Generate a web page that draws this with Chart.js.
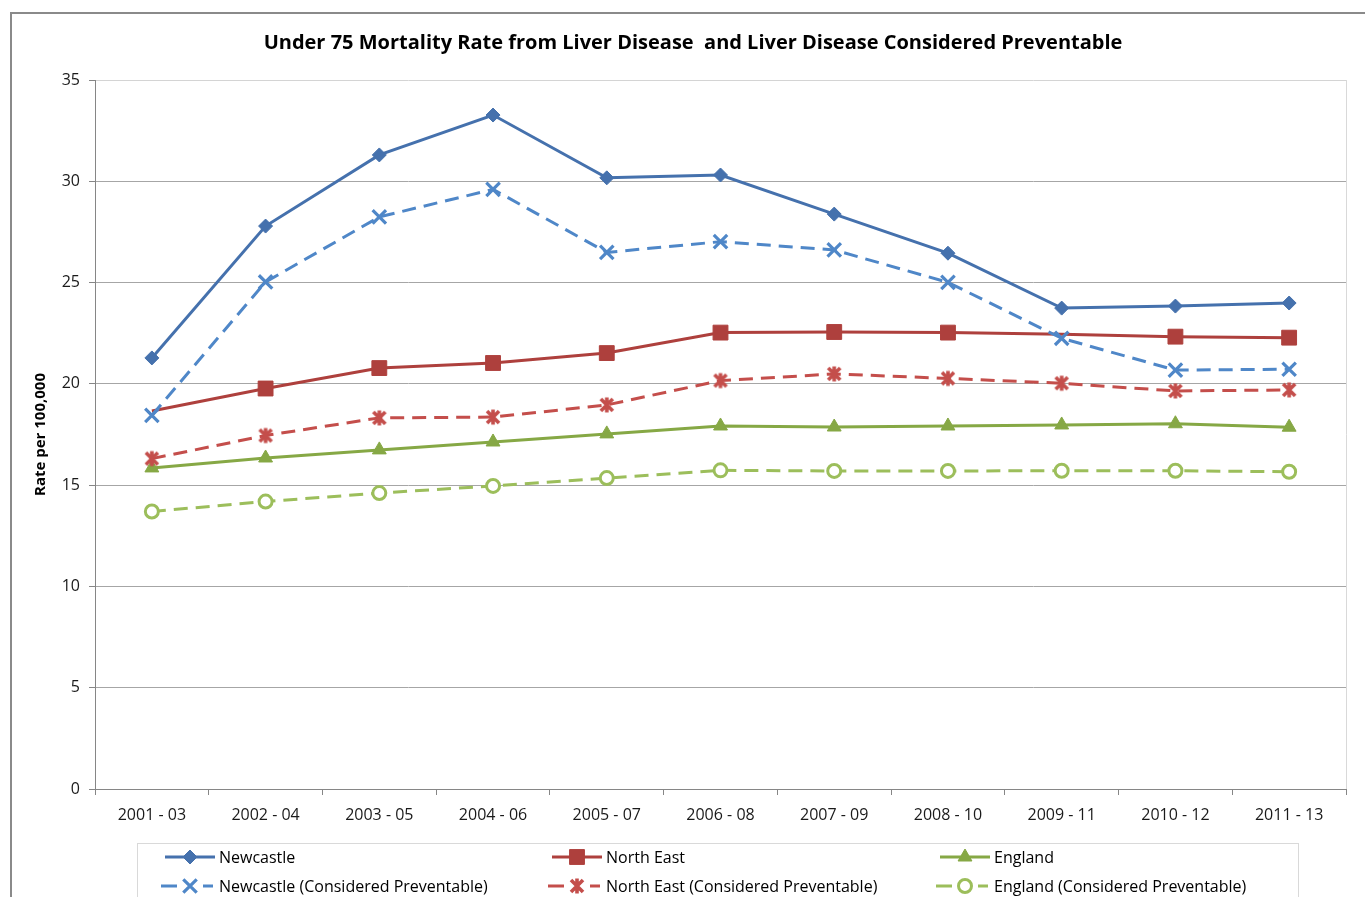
<!DOCTYPE html>
<html>
<head>
<meta charset="utf-8">
<script src="https://cdn.jsdelivr.net/npm/chart.js@4/dist/chart.umd.min.js"></script>
<style>
  html, body { margin: 0; padding: 0; background: #ffffff; }
  #wrap { position: relative; width: 1365px; height: 897px; }
</style>
</head>
<body>
<div id="wrap"><canvas id="chart" width="1365" height="897"></canvas></div>
<script>
// Three-year periods on the horizontal axis
const periods = ['2001 - 03', '2002 - 04', '2003 - 05', '2004 - 06', '2005 - 07', '2006 - 08',
                 '2007 - 09', '2008 - 10', '2009 - 11', '2010 - 12', '2011 - 13'];

// Under 75 mortality rate per 100,000 – all liver disease
const newcastle  = [21.28, 27.79, 31.30, 33.27, 30.17, 30.31, 28.38, 26.45, 23.74, 23.84, 23.99];
const northEast  = [18.66, 19.77, 20.78, 21.03, 21.52, 22.53, 22.56, 22.53, 22.45, 22.33, 22.28];
const england    = [15.85, 16.34, 16.74, 17.13, 17.53, 17.92, 17.87, 17.92, 17.97, 18.03, 17.86];

// Under 75 mortality rate per 100,000 – liver disease considered preventable
const newcastlePrev = [18.44, 25.03, 28.24, 29.60, 26.49, 27.02, 26.61, 25.01, 22.25, 20.68, 20.72];
const northEastPrev = [16.31, 17.45, 18.32, 18.36, 18.96, 20.16, 20.49, 20.27, 20.03, 19.65, 19.70];
const englandPrev   = [13.70, 14.19, 14.61, 14.96, 15.35, 15.73, 15.70, 15.70, 15.71, 15.71, 15.66];

// Vertical axis ticks
const yTicks = [0, 5, 10, 15, 20, 25, 30, 35];

const FONT = "'Open Sans', 'DejaVu Sans', sans-serif";

// Asterisk-style marker (X with a vertical stroke)
function asteriskMarker(color) {
  const c = document.createElement('canvas');
  c.width = 18; c.height = 18;
  const g = c.getContext('2d');
  g.strokeStyle = color; g.lineWidth = 3.6; g.lineCap = 'butt';
  g.beginPath();
  g.moveTo(3, 3); g.lineTo(15, 15);
  g.moveTo(15, 3); g.lineTo(3, 15);
  g.moveTo(9, 1.5); g.lineTo(9, 16.5);
  g.stroke();
  return c;
}

const colNewcastle = '#4571AD', colNewcastlePrev = '#4F87C8';
const colNorthEast = '#AE403D', colNorthEastPrev = '#C44E4B';
const colEngland = '#86A845', colEnglandPrev = '#9CBE5B';

const neRadius = periods.map((p, i) => (i === 0 || i === 8) ? 0 : 10.5);

const datasets = [
  { label: 'Newcastle', data: newcastle, borderColor: colNewcastle, backgroundColor: colNewcastle,
    borderWidth: 3, pointStyle: 'rectRot', pointRadius: 7, pointBorderWidth: 1, order: 1 },
  { label: 'Newcastle (Considered Preventable)', data: newcastlePrev, borderColor: colNewcastlePrev,
    backgroundColor: colNewcastlePrev, borderWidth: 3, borderDash: [14, 8], pointStyle: 'crossRot',
    pointRadius: 9.5, pointBorderWidth: 3.2, order: 0 },
  { label: 'North East', data: northEast, borderColor: colNorthEast, backgroundColor: colNorthEast,
    borderWidth: 3, pointStyle: 'rect', pointRadius: neRadius, pointBorderWidth: 1, order: 3,
    legendRadius: 10.5 },
  { label: 'North East (Considered Preventable)', data: northEastPrev, borderColor: colNorthEastPrev,
    backgroundColor: colNorthEastPrev, borderWidth: 3, borderDash: [14, 8],
    pointStyle: asteriskMarker(colNorthEastPrev), pointRadius: 9, order: 2 },
  { label: 'England', data: england, borderColor: colEngland, backgroundColor: colEngland,
    borderWidth: 3, pointStyle: 'triangle', pointRadius: 8, pointBorderWidth: 1, order: 5 },
  { label: 'England (Considered Preventable)', data: englandPrev, borderColor: colEnglandPrev,
    backgroundColor: '#ffffff', borderWidth: 3, borderDash: [14, 8], pointStyle: 'circle',
    pointRadius: 6.5, pointBorderWidth: 3, order: 4 }
];
datasets.forEach(d => {
  d.pointBackgroundColor = d.backgroundColor;
  d.pointBorderColor = d.borderColor;
  d.pointHoverRadius = d.pointRadius;
  d.tension = 0;
  d.fill = false;
});

// Outer frame, title, plot-area right edge and the boxed two-row legend
const decorations = {
  id: 'decorations',
  beforeDraw(chart) {
    const ctx = chart.ctx;
    ctx.save();
    ctx.fillStyle = '#ffffff';
    ctx.fillRect(0, 0, chart.width, chart.height);
    ctx.strokeStyle = '#8a8a8a';
    ctx.lineWidth = 2;
    ctx.beginPath();
    ctx.moveTo(11, chart.height + 2);
    ctx.lineTo(11, 13);
    ctx.lineTo(chart.width + 2, 13);
    ctx.stroke();
    ctx.restore();
  },
  afterDraw(chart) {
    const ctx = chart.ctx;
    const area = chart.chartArea;
    ctx.save();
    // plot area right edge
    ctx.strokeStyle = '#d9d9d9';
    ctx.lineWidth = 1;
    ctx.beginPath();
    ctx.moveTo(area.right + 0.5, area.top);
    ctx.lineTo(area.right + 0.5, area.bottom);
    ctx.stroke();

    // title
    ctx.fillStyle = '#000000';
    ctx.font = "bold 20px " + FONT;
    ctx.textAlign = 'center';
    ctx.textBaseline = 'middle';
    ctx.fillText('Under 75 Mortality Rate from Liver Disease  and Liver Disease Considered Preventable', 693, 43);

    // legend box
    ctx.strokeStyle = '#d9d9d9';
    ctx.lineWidth = 1;
    ctx.strokeRect(137.5, 843.5, 1161, 80);

    const cols = [165, 552, 940];
    const rows = [857, 886];
    const layout = [[0, 0], [0, 1], [1, 0], [1, 1], [2, 0], [2, 1]];
    chart.data.datasets.forEach((ds, i) => {
      const x0 = cols[layout[i][0]], y = rows[layout[i][1]];
      ctx.save();
      ctx.strokeStyle = ds.borderColor;
      ctx.lineWidth = ds.borderWidth;
      ctx.beginPath();
      if (ds.borderDash) {
        ctx.moveTo(x0 - 4, y); ctx.lineTo(x0 + 12, y);
        ctx.moveTo(x0 + 38, y); ctx.lineTo(x0 + 48, y);
      } else {
        ctx.moveTo(x0, y); ctx.lineTo(x0 + 50, y);
      }
      ctx.stroke();
      const r = ds.legendRadius || (Array.isArray(ds.pointRadius) ? 7 : ds.pointRadius);
      ctx.fillStyle = ds.pointBackgroundColor;
      ctx.strokeStyle = ds.pointBorderColor;
      ctx.lineWidth = ds.pointBorderWidth || 1;
      Chart.helpers.drawPoint(ctx, {
        pointStyle: ds.pointStyle, radius: r, borderWidth: ds.pointBorderWidth || 1, rotation: 0
      }, x0 + 25, y);
      ctx.restore();

      ctx.fillStyle = '#000000';
      ctx.font = "16px " + FONT;
      ctx.textAlign = 'left';
      ctx.textBaseline = 'middle';
      ctx.fillText(ds.label, x0 + 54, y + 1);
    });
    ctx.restore();
  }
};

new Chart(document.getElementById('chart'), {
  type: 'line',
  data: { labels: periods, datasets },
  options: {
    responsive: false,
    animation: false,
    events: [],
    layout: { padding: { left: 0, right: 19, top: 80, bottom: 0 } },
    plugins: {
      legend: { display: false },
      title: { display: false },
      tooltip: { enabled: false }
    },
    scales: {
      x: {
        offset: true,
        grid: {
          offset: true,
          drawOnChartArea: false,
          drawTicks: true,
          tickLength: 6,
          tickColor: '#868686',
          tickWidth: 1
        },
        border: { color: '#868686', width: 1 },
        ticks: {
          color: '#1a1a1a',
          font: { family: FONT, size: 16 },
          padding: 11,
          maxRotation: 0,
          autoSkip: false
        },
        afterFit(scale) { scale.height = 897 - 789; }
      },
      y: {
        min: 0,
        max: 35,
        afterBuildTicks(scale) { scale.ticks = yTicks.map(v => ({ value: v })); },
        grid: {
          color: ctx => (ctx.tick && ctx.tick.value === 35) ? '#d4d4d4' : '#a6a6a6',
          lineWidth: 1,
          drawTicks: true,
          tickLength: 6,
          tickColor: '#868686'
        },
        border: { color: '#868686', width: 1 },
        ticks: {
          color: '#1a1a1a',
          font: { family: FONT, size: 16 },
          padding: 9
        },
        title: {
          display: true,
          text: 'Rate per 100,000',
          color: '#000000',
          font: { family: FONT, size: 15, weight: 'bold' },
          padding: { top: 32, bottom: 0 }
        },
        afterFit(scale) { scale.width = 95; }
      }
    }
  },
  plugins: [decorations]
});
</script>
</body>
</html>
